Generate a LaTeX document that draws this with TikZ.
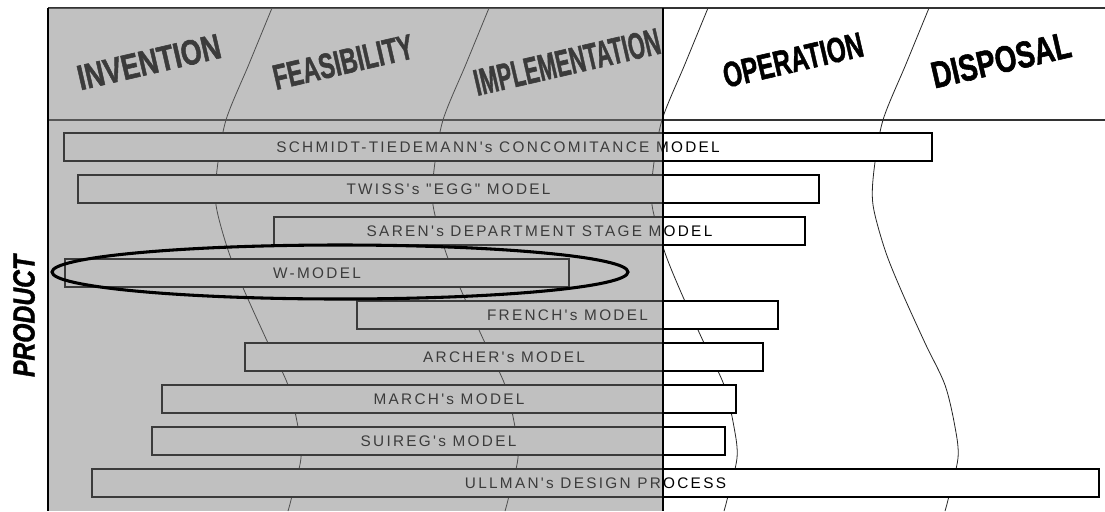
\documentclass[tikz,border=0pt]{standalone}
\usepackage{fontspec}
\usepackage{graphicx}
\setmainfont{Liberation Sans}
\newfontfamily\barfont[LetterSpace=15,Ligatures=TeXOff]{Liberation Sans}
\newfontfamily\phasefont[FakeBold=1.6]{Liberation Sans Bold}
\newfontfamily\productfont[FakeBold=1.4]{Liberation Sans Bold Italic}
\definecolor{veilgray}{RGB}{125,125,125}

\tikzset{
  divider/.style={line width=0.6pt, black!85},
  frameline/.style={line width=1.1pt, black!80},
  barbox/.style={line width=0.9pt, draw=black, fill=white},
  barlabel/.style={inner sep=0pt, font=\barfont\fontsize{11.5pt}{12pt}\selectfont},
  phase/.style={inner sep=0pt, font=\phasefont},
  ring/.style={line width=2.3pt, black},
}
% width, height, word
\newcommand{\hword}[3]{\resizebox{#1}{#2}{#3}}

\begin{document}
\begin{tikzpicture}[x=0.75pt,y=0.75pt,yscale=-1,xscale=1]
\useasboundingbox (0,0) rectangle (1105,511);

%Curved dividers between the phases
\foreach \b in {226,443,662,883}
  \draw[divider] plot[smooth] coordinates {(\b+46,8) (\b+23,64) (\b,120) (\b-9,170) (\b-10,205) (\b+2,250) (\b+18,290) (\b+42,343) (\b+62,385) (\b+72,427) (\b+75,458) (\b+65,500) (\b+62,511)};

%Straight Lines (top and header)
\draw[frameline] (48,8) -- (1105,8);
\draw[frameline] (48,120) -- (1105,120);

%Model bars
\foreach \xa/\xb/\i/\txt in {
  64/932/0/{SCHMIDT-TIEDEMANN's CONCOMITANCE MODEL},
  78/819/1/{TWISS's "EGG" MODEL},
  274/805/2/{SAREN's DEPARTMENT STAGE MODEL},
  65/569/3/{W-MODEL},
  357/778/4/{FRENCH's MODEL},
  245/763/5/{ARCHER's MODEL},
  162/736/6/{MARCH's MODEL},
  152/725/7/{SUIREG's MODEL},
  92/1099/8/{ULLMAN's DESIGN PROCESS}} {
  \draw[barbox] (\xa,133+42*\i) rectangle (\xb,161+42*\i);
  \node[barlabel] (bar\i) at ({(\xa+\xb)/2},147+42*\i) {\txt};
}

% Text Node
\node[phase, rotate=13] (invention) at (149,62) {\hword{109.5pt}{18.5pt}{INVENTION}};
% Text Node
\node[phase, rotate=13] (feasibility) at (343,62) {\hword{107pt}{18.5pt}{FEASIBILITY}};
% Text Node
\node[phase, rotate=13] (implementation) at (567,62) {\hword{142.5pt}{19.5pt}{IMPLEMENTATION}};

%Veil over the first three phases
\fill[veilgray, opacity=0.48] (48,8) rectangle (663,511);

% Text Node
\node[phase, rotate=13] (operation) at (793,60) {\hword{107pt}{18.5pt}{OPERATION}};
% Text Node
\node[phase, rotate=13] (disposal) at (1001,60) {\hword{106.5pt}{19.5pt}{DISPOSAL}};

%Ellipse round the W-model
\draw[ring] (bar3) ++(23,-1) ellipse [x radius=288, y radius=27];

%Straight Lines
\draw[line width=1.1pt] (663,8) -- (663,511);
\draw[line width=2pt] (48,8) -- (48,511);

% Text Node
\node[inner sep=0pt, font=\productfont, rotate=90] (product) at (24,316) {\hword{91.5pt}{16pt}{PRODUCT}};

\end{tikzpicture}
\end{document}
